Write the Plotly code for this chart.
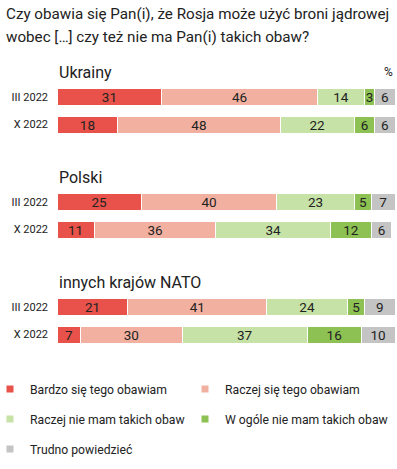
import plotly.graph_objects as go

title_lines = ["Czy obawia się Pan(i), że Rosja może użyć broni jądrowej",
               "wobec […] czy też nie ma Pan(i) takich obaw?"]
groups = ["Ukrainy", "Polski", "innych krajów NATO"]
periods = ["III 2022", "X 2022"]
series = ["Bardzo się tego obawiam", "Raczej się tego obawiam",
          "Raczej nie mam takich obaw", "W ogóle nie mam takich obaw",
          "Trudno powiedzieć"]
# values[series][group*2 + period]
bardzo = [31, 18, 25, 11, 21, 7]
raczej_tak = [46, 48, 40, 36, 41, 30]
raczej_nie = [14, 22, 23, 34, 24, 37]
wcale = [3, 6, 5, 12, 5, 16]
trudno = [6, 6, 7, 6, 9, 10]
values = [bardzo, raczej_tak, raczej_nie, wcale, trudno]
colors = ["#e8524a", "#f2b1a0", "#c7e2a7", "#8dc153", "#c4c4c4"]

W, H = 397, 469
L, R = 57, 2
PW = W - L - R
# row positions in pixel units (y axis maps 1:1 to pixels)
y0, gstep, rstep = 97, 105, 27.5
ypos, ylab = [], []
for g in range(len(groups)):
    for r in range(len(periods)):
        ypos.append(y0 + g * gstep + r * rstep)
        ylab.append(periods[r])

fig = go.Figure()
for s, (name, vals, col) in enumerate(zip(series, values, colors)):
    fig.add_trace(go.Bar(
        x=vals, y=ypos, orientation="h", width=17,
        marker=dict(color=col, line=dict(color="white", width=1)),
        text=vals, texttemplate="%{x}", textposition="inside",
        insidetextanchor="middle", constraintext="none", textangle=0,
        textfont=dict(family="Roboto", size=13.5, color="#222222"),
        showlegend=False, hoverinfo="skip", cliponaxis=False,
    ))

# legend: one legend box per entry, laid out in two columns
leg_ids = ["legend", "legend2", "legend3", "legend4", "legend5"]
leg_text_x = [30, 225, 30, 225, 30]
leg_y = [389, 389, 419, 419, 449]
for name, col, lg in zip(series, colors, leg_ids):
    fig.add_trace(go.Scatter(
        x=[None], y=[None], mode="markers", name=name,
        marker=dict(symbol="square", size=7, color=col),
        legend=lg, showlegend=True,
    ))

legends = {}
for lg, tx, ly in zip(leg_ids, leg_text_x, leg_y):
    legends[lg] = dict(
        orientation="h", xref="paper", yref="container",
        x=(tx - 40 - L) / PW, y=1 - ly / H,
        xanchor="left", yanchor="middle",
        font=dict(family="Roboto", size=12.2, color="#222222"),
        bgcolor="rgba(0,0,0,0)", itemclick=False, itemdoubleclick=False,
        borderwidth=0,
    )

ann = []
for i, (line, ly) in enumerate(zip(title_lines, [14, 37])):
    ann.append(dict(x=(4 - L) / PW, y=1 - ly / H, xref="paper", yref="paper",
                    text=line, showarrow=False, xanchor="left",
                    yanchor="middle", align="left",
                    font=dict(family="Roboto", size=15.2, color="#222222")))
for g, gname in enumerate(groups):
    ann.append(dict(x=0, y=y0 + g * gstep - 25, xref="x", yref="y",
                    text=gname, showarrow=False, xanchor="left",
                    yanchor="middle",
                    font=dict(family="Roboto", size=16, color="#222222")))
ann.append(dict(x=100, y=y0 - 25, xref="x", yref="y", text="%",
                showarrow=False, xanchor="right", yanchor="middle",
                font=dict(family="Roboto", size=12, color="#222222")))

fig.update_layout(
    width=W, height=H,
    margin=dict(l=L, r=R, t=0, b=0, autoexpand=False),
    paper_bgcolor="white", plot_bgcolor="white",
    barmode="stack", bargap=0,
    xaxis=dict(range=[0, 100], visible=False, fixedrange=True,
               automargin=False),
    yaxis=dict(range=[H, 0], tickvals=ypos, ticktext=ylab,
               showgrid=False, zeroline=False, showline=False, ticks="",
               ticklabelstandoff=8, automargin=False,
               tickfont=dict(family="Roboto", size=11, color="#222222"),
               fixedrange=True),
    uniformtext=dict(mode="show", minsize=13),
    annotations=ann,
    **legends,
)

fig.write_html("out.html",
               config={"displayModeBar": False, "staticPlot": True},
               post_script="document.body.style.margin='0px';")
